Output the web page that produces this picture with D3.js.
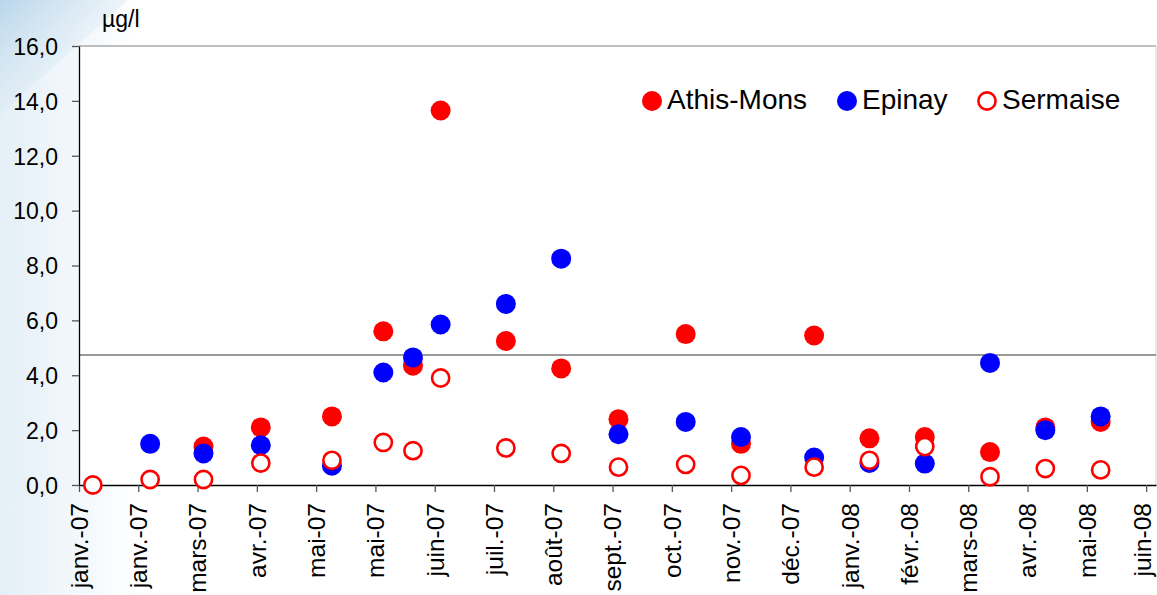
<!DOCTYPE html>
<html>
<head>
<meta charset="utf-8">
<script src="https://cdn.jsdelivr.net/npm/d3@7"></script>
<style>
  html, body { margin: 0; padding: 0; background: #fff; }
  svg { display: block; font-family: "Liberation Sans", Arial, sans-serif; }
</style>
</head>
<body>
<div id="app"></div>
<script>
// sampling dates and measured values (µg/l)
const sampleDates = ["2007-01-08", "2007-02-06", "2007-03-05", "2007-04-03", "2007-05-09",
  "2007-06-04", "2007-06-19", "2007-07-03", "2007-08-05", "2007-09-02", "2007-10-01",
  "2007-11-04", "2007-12-02", "2008-01-08", "2008-02-05", "2008-03-04", "2008-04-06",
  "2008-05-04", "2008-06-01"]
const athisMons = [null, null, 1.4, 2.1, 2.5, 5.6, 4.35, 13.65, 5.25, 4.25, 2.4, 5.5, 1.5, 5.45, 1.7, 1.75, 1.2, 2.1, 2.3]
const epinay = [null, 1.5, 1.15, 1.45, 0.7, 4.1, 4.65, 5.85, 6.6, 8.25, 1.85, 2.3, 1.75, 1.0, 0.8, 0.78, 4.45, 2.0, 2.5]
const sermaise = [0.0, 0.2, 0.2, 0.8, 0.9, 1.55, 1.25, 3.9, 1.35, 1.15, 0.65, 0.75, 0.35, 0.65, 0.9, 1.4, 0.3, 0.6, 0.55]
const threshold = 4.74

const seriesNames = ["Athis-Mons", "Epinay", "Sermaise"]
const tickDates = ["2007-01-01", "2007-01-31", "2007-03-02", "2007-04-01", "2007-05-01",
  "2007-05-31", "2007-06-30", "2007-07-30", "2007-08-29", "2007-09-28", "2007-10-28",
  "2007-11-27", "2007-12-27", "2008-01-26", "2008-02-25", "2008-03-26", "2008-04-25",
  "2008-05-25", "2008-06-24"]
const yTicks = [0, 2, 4, 6, 8, 10, 12, 14, 16]

const W = 1157, H = 595
const m = { left: 79, right: 1156, top: 46, bottom: 485 }

const parse = d3.utcParse("%Y-%m-%d")
const fr = d3.timeFormatLocale({
  dateTime: "%A %e %B %Y à %X", date: "%d/%m/%Y", time: "%H:%M:%S",
  periods: ["AM", "PM"],
  days: ["dimanche", "lundi", "mardi", "mercredi", "jeudi", "vendredi", "samedi"],
  shortDays: ["dim.", "lun.", "mar.", "mer.", "jeu.", "ven.", "sam."],
  months: ["janvier", "février", "mars", "avril", "mai", "juin", "juillet", "août", "septembre", "octobre", "novembre", "décembre"],
  shortMonths: ["janv.", "févr.", "mars", "avr.", "mai", "juin", "juil.", "août", "sept.", "oct.", "nov.", "déc."]
})
const fmtMonth = fr.utcFormat("%b-%y")
const fmtNum = v => d3.format(".1f")(v).replace(".", ",")

const start = parse(tickDates[0])
const fx = d3.scaleUtc()
  .domain([start, d3.utcDay.offset(start, 545)])
  .range([m.left, m.right])
const fy = d3.scaleLinear()
  .domain([0, 16])
  .range([m.bottom, m.top])

const svg = d3.select("#app").append("svg")
  .attr("width", W)
  .attr("height", H)

// background swoosh
const defs = svg.append("defs")
const g1 = defs.append("linearGradient").attr("id", "bgl").attr("x1", 0).attr("x2", 1).attr("y1", 0).attr("y2", 0)
g1.append("stop").attr("offset", 0).attr("stop-color", "#e4eff7")
g1.append("stop").attr("offset", 1).attr("stop-color", "#ffffff")
const g2 = defs.append("linearGradient").attr("id", "bgt").attr("x1", 0).attr("x2", 1).attr("y1", 0).attr("y2", 1)
g2.append("stop").attr("offset", 0).attr("stop-color", "#b9d6ea")
g2.append("stop").attr("offset", 1).attr("stop-color", "#ffffff").attr("stop-opacity", 0)

svg.append("rect").attr("width", W).attr("height", H).attr("fill", "#fff")
svg.append("rect").attr("width", 140).attr("height", H).attr("fill", "url(#bgl)")
svg.append("path")
  .attr("d", "M0,0L128,0L0,115Z")
  .attr("fill", "url(#bgt)")

// plot area
svg.append("rect")
  .attr("x", m.left).attr("y", m.top)
  .attr("width", m.right - m.left).attr("height", m.bottom - m.top)
  .attr("fill", "#fff")
svg.append("line")
  .attr("x1", m.left).attr("x2", m.right).attr("y1", m.top).attr("y2", m.top)
  .attr("stroke", "#808080").attr("stroke-width", 1.2)
svg.append("line")
  .attr("x1", m.right).attr("x2", m.right).attr("y1", m.top).attr("y2", m.bottom)
  .attr("stroke", "#d0d0d0").attr("stroke-width", 1)

svg.append("line")
  .attr("x1", m.left).attr("x2", m.right)
  .attr("y1", fy(threshold)).attr("y2", fy(threshold))
  .attr("stroke", "#999").attr("stroke-width", 2)

// axes
const gx = svg.append("g")
  .attr("transform", `translate(0,${m.bottom})`)
  .call(d3.axisBottom(fx).tickValues(tickDates.map(parse)).tickFormat(fmtMonth).tickSize(7).tickSizeOuter(0))
gx.selectAll("text")
  .attr("font-size", 24.5)
  .attr("fill", "#000")
  .attr("text-anchor", "end")
  .attr("transform", "rotate(-90)")
  .attr("x", -18)
  .attr("y", (d, i) => i == tickDates.length - 1 ? -4 : 0)
  .attr("dy", "0.34em")

const gy = svg.append("g")
  .attr("transform", `translate(${m.left},0)`)
  .call(d3.axisLeft(fy).tickValues(yTicks).tickFormat(fmtNum).tickSize(7).tickSizeOuter(0))
gy.selectAll("text")
  .attr("font-size", 23)
  .attr("fill", "#000")
  .attr("x", -21)
  .attr("dy", "0.36em")

for (const g of [gx, gy]) {
  g.attr("font-family", null)
  g.select(".domain").attr("stroke", "#000").attr("stroke-width", 1.3)
  g.selectAll(".tick line").attr("stroke", "#555").attr("stroke-width", 1.3)
}

svg.append("text")
  .attr("x", 102).attr("y", 27)
  .attr("font-size", 23)
  .text("µg/l")

// markers
const rows = (vals) => sampleDates.map((d, i) => ({ date: parse(d), v: vals[i] })).filter(d => d.v != null)

svg.append("g").selectAll("circle")
  .data(rows(athisMons))
  .join("circle")
    .attr("cx", d => fx(d.date)).attr("cy", d => fy(d.v))
    .attr("r", 10).attr("fill", "#ff0000")

svg.append("g").selectAll("circle")
  .data(rows(epinay))
  .join("circle")
    .attr("cx", d => fx(d.date)).attr("cy", d => fy(d.v))
    .attr("r", 10).attr("fill", "#0000ff")

svg.append("g").selectAll("circle")
  .data(rows(sermaise))
  .join("circle")
    .attr("cx", d => fx(d.date)).attr("cy", d => fy(d.v))
    .attr("r", 8.6).attr("fill", "#fff")
    .attr("stroke", "#ff0000").attr("stroke-width", 2.6)

// legend
const legendX = [652, 847, 987]
const lg = svg.append("g").attr("font-size", 28)
seriesNames.forEach((name, i) => {
  const c = lg.append("circle").attr("cx", legendX[i]).attr("cy", 101)
  if (i < 2) c.attr("r", 10).attr("fill", i == 0 ? "#ff0000" : "#0000ff")
  else c.attr("r", 8.6).attr("fill", "#fff").attr("stroke", "#ff0000").attr("stroke-width", 2.6)
  lg.append("text")
    .attr("x", legendX[i] + 15).attr("y", 109)
    .text(name)
})
</script>
</body>
</html>
